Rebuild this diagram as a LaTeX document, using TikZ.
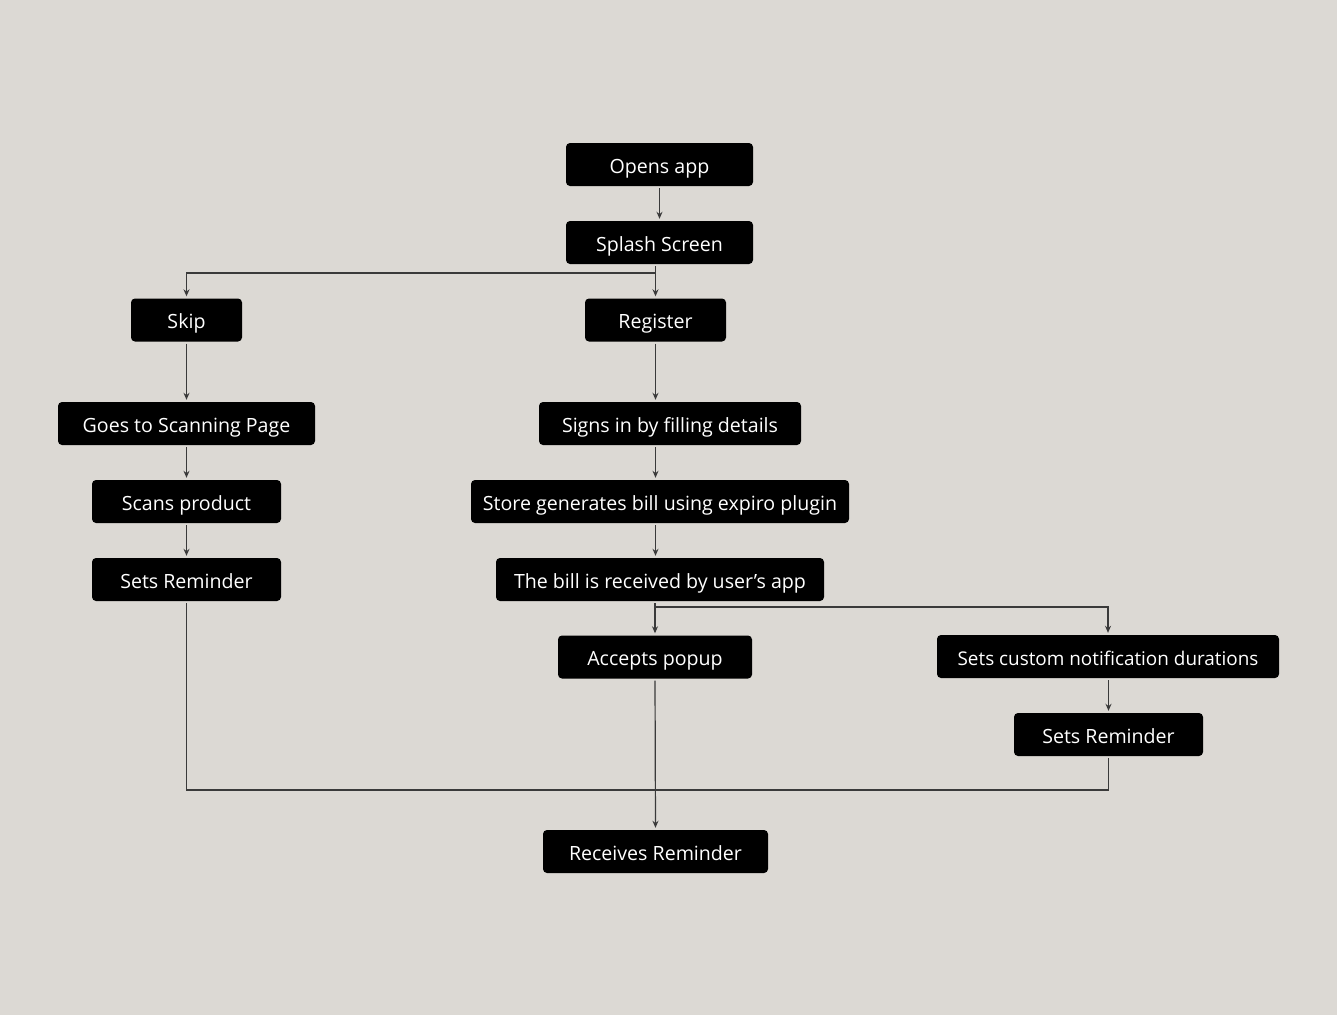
\documentclass[tikz,border=0pt]{standalone}
\usepackage{fontspec}
\setmainfont{Open Sans}
\usetikzlibrary{arrows.meta}
\definecolor{bg}{HTML}{DCD9D4}
\definecolor{ln}{HTML}{3A3A3A}
\begin{document}
\begin{tikzpicture}[x=1pt,y=-1pt,
  box/.style={fill=black, text=white, rounded corners=4pt, font=\fontsize{19.6}{22}\selectfont, inner sep=0pt, minimum height=43pt, text height=17pt, text depth=0pt},
  conn/.style={draw=ln, line width=1.2pt, shorten <=2pt, shorten >=2pt},
  arr/.style={conn, -{Stealth[length=7pt,width=6pt]}}]
\fill[bg] (0,0) rectangle (1337,1015);
\useasboundingbox (0,0) rectangle (1337,1015);
\node[box, minimum width=187pt] (open) at (659.5,164.5) {Opens app};
\node[box, minimum width=187pt] (splash) at (659.5,242.5) {Splash Screen};
\node[box, minimum width=111pt] (skip) at (186.5,320) {Skip};
\node[box, minimum width=141pt] (reg) at (655.5,320) {Register};
\node[box, minimum width=257pt] (goes) at (186.5,423.5) {Goes to Scanning Page};
\node[box, minimum width=262pt] (signs) at (670,423.5) {Signs in by filling details};
\node[box, minimum width=189pt] (scans) at (186.5,501.5) {Scans product};
\node[box, minimum width=378pt] (store) at (660,501.5) {Store generates bill using expiro plugin};
\node[box, minimum width=189pt] (sr1) at (186.5,579.5) {Sets Reminder};
\node[box, minimum width=328pt] (bill) at (660,579.5) {The bill is received by user’s app};
\node[box, minimum width=194pt] (acc) at (655,657) {Accepts popup};
\node[box, minimum width=342pt, font=\fontsize{18.9}{22}\selectfont] (custom) at (1108,656.5) {Sets custom notification durations};
\node[box, minimum width=189pt] (sr2) at (1108.5,734.5) {Sets Reminder};
\node[box, minimum width=225pt] (recv) at (655.5,851.5) {Receives Reminder};
\coordinate (j1) at (655,273);
\coordinate (j2) at (655,607);
\coordinate (b) at (655,790);
\draw[arr] (open.south) -- (splash.north);
\draw[arr] (splash.south -| reg.north) -- (reg.north);
\draw[arr, shorten <=0pt] (j1) -| (skip.north);
\draw[arr] (skip.south) -- (goes.north);
\draw[arr] (reg.south) -- (reg.south |- signs.north);
\draw[arr] (goes.south) -- (scans.north);
\draw[arr] (signs.south -| reg.south) -- (store.north -| reg.south);
\draw[arr] (scans.south) -- (sr1.north);
\draw[arr] (store.south -| reg.south) -- (bill.north -| reg.south);
\draw[arr] (bill.south -| acc.north) -- (acc.north);
\draw[arr, shorten <=0pt] (j2) -| (custom.north);
\draw[arr] (custom.south -| sr2.north) -- (sr2.north);
\draw[conn] (sr1.south) |- (b) -| (sr2.south);
\draw[arr] (acc.south) -- (recv.north);
\end{tikzpicture}
\end{document}
